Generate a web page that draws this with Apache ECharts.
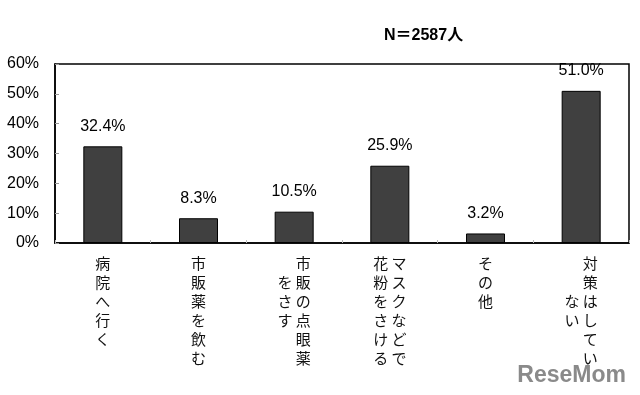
<!DOCTYPE html>
<html><head><meta charset="utf-8">
<script src="https://cdn.jsdelivr.net/npm/echarts@6/dist/echarts.min.js"></script>
<style>html,body{margin:0;padding:0;background:#fff}#c{width:640px;height:395px}</style>
</head><body><div id="c"></div>
<script>
// Category labels: vertical columns (right column first), with the row where each column starts
const categoryColumns = [
  [['病院へ行く', 0]],
  [['市販薬を飲む', 0]],
  [['市販の点眼薬', 0], ['をさす', 1]],
  [['マスクなどで', 0], ['花粉をさける', 0]],
  [['その他', 0]],
  [['対策はしてい', 0], ['ない', 2]]
];
const categories = categoryColumns.map(c => c.map(x => x[0]).join(''));
const values = [32.4, 8.3, 10.5, 25.9, 3.2, 51.0];
const yTicks = [0, 10, 20, 30, 40, 50, 60];
const titleText = 'N＝2587人';

function verticalLabel(idx) {
  const cols = categoryColumns[idx];
  let rows = 0;
  cols.forEach(([t, s]) => { rows = Math.max(rows, s + t.length); });
  const lines = [];
  for (let r = 0; r < rows; r++) {
    const parts = [];
    for (let c = cols.length - 1; c >= 0; c--) {
      const [t, s] = cols[c];
      const ch = (r >= s && r - s < t.length) ? t[r - s] : '　';
      parts.push(ch);
    }
    lines.push(parts.join(' '));
  }
  return lines.join('\n');
}

const chart = echarts.init(document.getElementById('c'), null, {renderer: 'canvas'});
chart.setOption({
  animation: false,
  backgroundColor: '#fff',
  title: {
    text: titleText, left: 379, top: 23,
    textStyle: {fontFamily: 'Liberation Sans, Noto Sans CJK JP', fontSize: 16, fontWeight: 'bold', color: '#000'}
  },
  grid: {left: 55, right: 11, top: 64, bottom: 152, show: true, borderColor: '#000', borderWidth: 1.5, backgroundColor: '#fff'},
  xAxis: {
    type: 'category', data: categories,
    axisLine: {lineStyle: {color: '#000', width: 1.5}},
    axisTick: {show: true, inside: true, length: 3, alignWithLabel: false, lineStyle: {color: '#bbb'}},
    axisLabel: {
      interval: 0, margin: 11, lineHeight: 19,
      fontFamily: 'Noto Sans CJK JP', fontSize: 15, color: '#111',
      formatter: (v, i) => verticalLabel(i)
    }
  },
  yAxis: {
    type: 'value', min: yTicks[0], max: yTicks[yTicks.length - 1], interval: 10,
    axisLine: {show: true, lineStyle: {color: '#000', width: 1.5}},
    axisTick: {show: true, inside: true, length: 4, lineStyle: {color: '#999'}},
    splitLine: {show: false},
    axisLabel: {
      margin: 16, fontFamily: 'Liberation Sans', fontSize: 16, color: '#000',
      formatter: v => v + '%'
    }
  },
  series: [{
    type: 'bar', data: values, barWidth: 39,
    itemStyle: {color: '#404040', borderColor: '#000', borderWidth: 1},
    label: {
      show: true, position: 'top', distance: 12,
      fontFamily: 'Liberation Sans', fontSize: 16, color: '#000',
      formatter: p => p.value.toFixed(1) + '%'
    }
  }],
  graphic: [{
    type: 'text', right: 14, bottom: 8,
    style: {text: 'ReseMom', font: 'bold 23px "Liberation Sans"', fill: '#8a8a8a'}
  }]
});
</script></body></html>
